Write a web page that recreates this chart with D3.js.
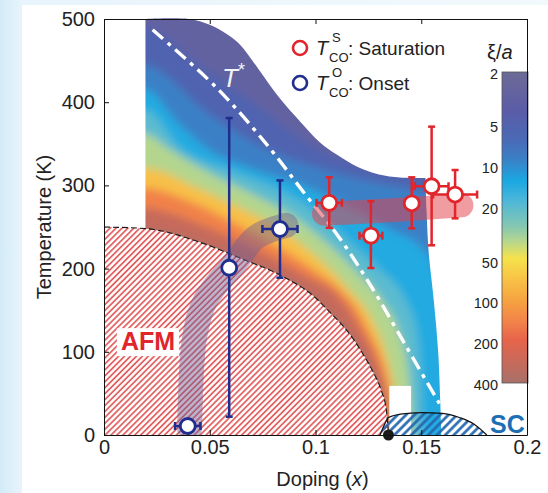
<!DOCTYPE html>
<html>
<head>
<meta charset="utf-8">
<script src="https://cdnjs.cloudflare.com/ajax/libs/d3/7.8.5/d3.min.js"></script>
<style>
  body { margin: 0; background: #fff; }
  svg { display: block; font-family: "Liberation Sans", Arial, sans-serif; }
</style>
</head>
<body>
<svg id="phase" width="548" height="493"></svg>
<script>
// ---- values ----
const xTicks = [0, 0.05, 0.1, 0.15, 0.2];
const yTicks = [0, 100, 200, 300, 400, 500];
const xiTicks = [2, 5, 10, 20, 50, 100, 200, 400];

// colour bar: position along the bar (0 = top, xi = 2) and colour
const cmapPos = [0, 0.13, 0.22, 0.28, 0.35, 0.41, 0.5, 0.55, 0.6, 0.67, 0.74, 0.8, 0.86, 0.93, 1];
const cmapColors = ["#6d6a96", "#5a5ca8", "#4a6ab6", "#3a80c6", "#1aa8e2", "#4ab6da", "#88c8b0", "#bcd888",
                    "#f6e24a", "#f8c046", "#f5a040", "#f2844a", "#e8644a", "#c86a5a", "#a87068"];

// T_CO^O onset (blue)
const onsetX = [0.0396, 0.0592, 0.0832];
const onsetT = [10.8, 201, 247.6];
const onsetTLow = [10.8, 22, 189];
const onsetTHigh = [10.8, 381, 306];
const onsetXErr = [0.006, 0, 0.0083];

// T_CO^S saturation (red)
const satX = [0.1065, 0.1262, 0.1455, 0.1549, 0.166];
const satT = [279, 239.6, 278.5, 299, 289];
const satTLow = [249, 200.7, 248.4, 228, 260.4];
const satTHigh = [309.7, 281, 309.7, 370.6, 318.5];
const satXErr = [0.006, 0.0054, 0, 0.008, 0.0104];

// AFM dome (also the xi = 400 contour)
const afmBoundary = [[0, 250], [0.02, 248], [0.045, 232], [0.065, 212], [0.085, 190], [0.1, 165], [0.107, 147],
                     [0.112, 134], [0.118, 115], [0.123, 95], [0.127, 77], [0.131, 54], [0.1335, 30], [0.1345, 0]];
// SC dome
const scDome = [[0.1305, 0], [0.1325, 12], [0.1345, 21], [0.14, 25], [0.15, 27], [0.16, 26], [0.168, 21], [0.175, 13], [0.181, 0]];

// contours of the correlation length xi/a
const xi200 = [[0, 275], [0.02, 273], [0.045, 254], [0.065, 232], [0.085, 206], [0.1, 185], [0.108, 174], [0.116, 150],
               [0.1215, 126], [0.127, 100], [0.131, 72], [0.134, 40], [0.1355, 0]];
const xi100 = [[0, 299], [0.02, 297], [0.045, 276], [0.065, 250], [0.085, 222], [0.1, 197], [0.112, 174], [0.12, 150],
               [0.125, 126], [0.13, 100], [0.134, 70], [0.1365, 35], [0.1375, 0]];
const xi50 = [[0, 323], [0.02, 321], [0.045, 296], [0.065, 272], [0.083, 248], [0.1, 215], [0.116, 174], [0.124, 150],
              [0.129, 126], [0.133, 100], [0.136, 70], [0.138, 35], [0.139, 0]];
const xi25 = [[0, 365], [0.02, 362], [0.03, 345], [0.05, 315], [0.07, 290], [0.09, 262], [0.105, 232], [0.12, 195],
              [0.132, 160], [0.14, 120], [0.144, 75], [0.1455, 30], [0.146, 0]];
const xi16 = [[0, 392], [0.02, 390], [0.036, 345], [0.06, 318], [0.08, 298], [0.1, 268], [0.115, 235], [0.13, 200],
              [0.142, 165], [0.148, 125], [0.15, 70], [0.1505, 0]];
const xi11 = [[0, 418], [0.02, 415], [0.035, 375], [0.05, 342], [0.07, 320], [0.094, 300], [0.115, 275], [0.135, 248],
              [0.152, 220], [0.159, 180], [0.162, 100], [0.163, 0]];
const xi7 = [[0, 448], [0.02, 444], [0.05, 385], [0.078, 342], [0.1, 322], [0.12, 308], [0.14, 298], [0.165, 288]];
const xi4 = [[0, 495], [0.02, 490], [0.045, 445], [0.07, 400], [0.1, 345], [0.12, 325], [0.14, 315], [0.165, 305]];
const contourXi = [4, 7, 11, 16, 25, 50, 100, 200, 400];
const contours = [xi4, xi7, xi11, xi16, xi25, xi50, xi100, xi200, afmBoundary];

// outline of the coloured region
const fieldLeft = 0.0196;
const fieldTop = [[0.0196, 500], [0.04, 500], [0.05, 493], [0.058, 482], [0.064, 470], [0.073, 440], [0.083, 405],
                  [0.093, 376], [0.102, 352], [0.11, 337], [0.12, 322], [0.13, 313], [0.14, 309.5], [0.152, 309]];
const fieldRight = [[0.152, 309], [0.1525, 270], [0.1535, 220], [0.156, 160], [0.158, 100], [0.159, 40], [0.1595, 0]];
const notchX = [0.1349, 0.1452];
const notchT = [0, 59];

// T* crossover and guide bands
const tStar = [[0.023, 487], [0.053, 418], [0.077, 349], [0.094, 293], [0.111, 238], [0.126, 180], [0.143, 106], [0.159, 36]];
const onsetBand = [[0.0405, 8], [0.043, 120], [0.048, 162], [0.062, 207], [0.072, 238], [0.086, 252]];
const satBand = [[0.104, 266], [0.135, 270], [0.169, 276]];
const afmDot = [0.1345, 0];

// ---- chart ----
const svg = d3.select("#phase");
const margin = {top: 19, right: 21, bottom: 58, left: 104};
const width = 548 - margin.left - margin.right;
const height = 493 - margin.top - margin.bottom;

const x = d3.scaleLinear().domain([0, 0.2]).range([0, width]);
const y = d3.scaleLinear().domain([0, 500]).range([height, 0]);
const colorT = d3.scaleLog().domain([2, 400]).range([0, 1]);
const cmap = d3.scaleLinear().domain(cmapPos).range(cmapColors);
const colorOf = v => cmap(colorT(v));

const defs = svg.append("defs");
const bg = defs.append("linearGradient").attr("id", "bgGrad");
bg.append("stop").attr("offset", "0%").attr("stop-color", "#d3ebf8");
bg.append("stop").attr("offset", "4%").attr("stop-color", "#e7f4fb");
bg.append("stop").attr("offset", "100%").attr("stop-color", "#f2f9fd");

svg.append("rect").attr("width", 548).attr("height", 493).attr("fill", "url(#bgGrad)");
svg.append("rect").attr("x", 22).attr("y", 5).attr("width", 526).attr("height", 488).attr("fill", "#fff");

// hatch patterns
const afmPat = defs.append("pattern").attr("id", "afmHatch").attr("patternUnits", "userSpaceOnUse")
    .attr("width", 4.2).attr("height", 4.2).attr("patternTransform", "rotate(45)");
afmPat.append("rect").attr("width", 4.2).attr("height", 4.2).attr("fill", "#fff");
afmPat.append("line").attr("x1", 1).attr("y1", 0).attr("x2", 1).attr("y2", 4.2)
    .attr("stroke", "#e05050").attr("stroke-width", 1.6);
const scPat = defs.append("pattern").attr("id", "scHatch").attr("patternUnits", "userSpaceOnUse")
    .attr("width", 6).attr("height", 6).attr("patternTransform", "rotate(45)");
scPat.append("line").attr("x1", 1.5).attr("y1", 0).attr("x2", 1.5).attr("y2", 6)
    .attr("stroke", "#2468b0").attr("stroke-width", 2.6);

const blur = defs.append("filter").attr("id", "soften")
    .attr("x", "-10%").attr("y", "-10%").attr("width", "120%").attr("height", "120%");
blur.append("feGaussianBlur").attr("stdDeviation", 4);

defs.append("clipPath").attr("id", "plotClip").append("rect").attr("width", width).attr("height", height);

const g = svg.append("g").attr("transform", "translate(" + margin.left + "," + margin.top + ")");

const lineCR = d3.line().x(d => x(d[0])).y(d => y(d[1])).curve(d3.curveCatmullRom);
const lineMX = d3.line().x(d => x(d[0])).y(d => y(d[1])).curve(d3.curveMonotoneX);
const areaDeep = d3.area().x(d => x(d[0])).y0(y(-40)).y1(d => y(d[1])).curve(d3.curveMonotoneX);
const areaZero = d3.area().x(d => x(d[0])).y0(y(0)).y1(d => y(d[1])).curve(d3.curveMonotoneX);

// coloured correlation-length field
const clipD = lineCR(fieldTop) + lineCR(fieldRight).replace(/^M/, "L") +
    "L" + x(fieldLeft) + "," + y(0) + "Z";
defs.append("clipPath").attr("id", "fieldClip").append("path").attr("d", clipD);

const field = g.append("g").attr("clip-path", "url(#fieldClip)")
    .append("g").attr("filter", "url(#soften)");
field.append("rect").attr("x", -30).attr("y", -30).attr("width", width + 60).attr("height", height + 60)
    .attr("fill", colorOf(3));
contours.forEach((pts, i) => {
    const v = i < contourXi.length - 1 ? Math.sqrt(contourXi[i] * contourXi[i + 1]) : contourXi[i];
    field.append("path").attr("d", areaDeep(pts)).attr("fill", colorOf(v));
});

g.append("rect")
    .attr("x", x(notchX[0])).attr("y", y(notchT[1]))
    .attr("width", x(notchX[1]) - x(notchX[0])).attr("height", y(notchT[0]) - y(notchT[1]))
    .attr("fill", "#fff");

// AFM dome
g.append("path").attr("d", areaZero(afmBoundary)).attr("fill", "url(#afmHatch)");
g.append("path").attr("d", lineMX(afmBoundary)).attr("fill", "none")
    .attr("stroke", "#1a1a1a").attr("stroke-width", 1.1).attr("stroke-dasharray", "6,3");

// SC dome
g.append("path").attr("d", areaZero(scDome)).attr("fill", "url(#scHatch)");
g.append("path").attr("d", lineMX(scDome)).attr("fill", "none")
    .attr("stroke", "#111").attr("stroke-width", 1.2);

// T* line
g.append("path").attr("d", lineCR(tStar)).attr("fill", "none")
    .attr("stroke", "#fff").attr("stroke-width", 3.4).attr("stroke-dasharray", "14,6,4,6");

// guide bands
const bands = g.append("g").attr("clip-path", "url(#plotClip)");
bands.append("path").attr("d", lineCR(onsetBand)).attr("fill", "none")
    .attr("stroke", "#6e5e94").attr("stroke-opacity", 0.45).attr("stroke-width", 25)
    .attr("stroke-linecap", "round");
bands.append("path").attr("d", lineCR(satBand)).attr("fill", "none")
    .attr("stroke", "#e4424a").attr("stroke-opacity", 0.52).attr("stroke-width", 24)
    .attr("stroke-linecap", "round");

// error bars and markers
function drawSeries(xs, ts, tLo, tHi, xErr, color) {
    const bars = g.append("g").attr("stroke", color).attr("stroke-width", 2.5).attr("fill", "none");
    xs.forEach((xv, i) => {
        const cx = x(xv), cy = y(ts[i]);
        if (tHi[i] > tLo[i]) {
            bars.append("line").attr("x1", cx).attr("x2", cx).attr("y1", y(tLo[i])).attr("y2", y(tHi[i]));
            [tLo[i], tHi[i]].forEach(t => bars.append("line")
                .attr("x1", cx - 3.5).attr("x2", cx + 3.5).attr("y1", y(t)).attr("y2", y(t)));
        }
        if (xErr[i] > 0) {
            bars.append("line").attr("x1", x(xv - xErr[i])).attr("x2", x(xv + xErr[i])).attr("y1", cy).attr("y2", cy);
            [xv - xErr[i], xv + xErr[i]].forEach(e => bars.append("line")
                .attr("x1", x(e)).attr("x2", x(e)).attr("y1", cy - 4).attr("y2", cy + 4));
        }
    });
    g.append("g").selectAll("circle").data(xs).join("circle")
        .attr("cx", d => x(d)).attr("cy", (d, i) => y(ts[i])).attr("r", 7.5)
        .attr("fill", "#fff").attr("stroke", color).attr("stroke-width", 2.8);
}
drawSeries(onsetX, onsetT, onsetTLow, onsetTHigh, onsetXErr, "#1f2e8e");
drawSeries(satX, satT, satTLow, satTHigh, satXErr, "#e0252b");

g.append("circle").attr("cx", x(afmDot[0])).attr("cy", y(afmDot[1])).attr("r", 5.5).attr("fill", "#1a1a1a");

// labels inside the plot
const afmLabel = g.append("text").attr("x", x(0.008)).attr("y", y(102))
    .attr("font-size", 25).attr("font-weight", "bold").attr("fill", "#e0252b").text("AFM");
const bb = afmLabel.node().getBBox();
g.insert("rect", () => afmLabel.node())
    .attr("x", bb.x - 4).attr("y", bb.y + 1).attr("width", bb.width + 8).attr("height", bb.height)
    .attr("fill", "#fff");

g.append("text").attr("x", x(0.1825)).attr("y", y(2.4))
    .attr("font-size", 25).attr("font-weight", "bold").attr("fill", "#1c6fb5").text("SC");

const ts = g.append("text").attr("x", x(0.0558)).attr("y", y(418))
    .attr("font-size", 26).attr("font-style", "italic").attr("fill", "#f4f4f8");
ts.append("tspan").text("T");
ts.append("tspan").attr("dy", -11).attr("font-size", 18).attr("font-style", "normal").text("*");

// legend
const legend = [["#e0252b", "S", ": Saturation"], ["#1f2e8e", "O", ": Onset"]];
legend.forEach((d, i) => {
    const ly = 29 + i * 35;
    g.append("circle").attr("cx", 196).attr("cy", ly).attr("r", 7)
        .attr("fill", "#fff").attr("stroke", d[0]).attr("stroke-width", 2.6);
    g.append("text").attr("x", 212).attr("y", ly + 7).attr("font-size", 20)
        .attr("font-style", "italic").attr("fill", "#222").text("T");
    g.append("text").attr("x", 225).attr("y", ly + 14).attr("font-size", 13).attr("fill", "#222").text("CO");
    g.append("text").attr("x", 228).attr("y", ly - 6).attr("font-size", 13).attr("fill", "#222").text(d[1]);
    g.append("text").attr("x", 244).attr("y", ly + 7).attr("font-size", 19).attr("fill", "#222").text(d[2]);
});

// colour bar
const cbX = 398, cbW = 26;
const cbScale = d3.scaleLog().domain([2, 400]).range([53, 364]);
const cbGrad = defs.append("linearGradient").attr("id", "cbGrad")
    .attr("x1", 0).attr("y1", 0).attr("x2", 0).attr("y2", 1);
cmapPos.forEach((p, i) => cbGrad.append("stop").attr("offset", p).attr("stop-color", cmapColors[i]));
g.append("rect").attr("x", cbX).attr("y", cbScale(2)).attr("width", cbW)
    .attr("height", cbScale(400) - cbScale(2)).attr("fill", "url(#cbGrad)")
    .attr("stroke", "#555").attr("stroke-width", 0.8);
const cbAxis = g.append("g").attr("transform", "translate(" + (cbX - 4) + ",0)")
    .call(d3.axisLeft(cbScale).tickValues(xiTicks).tickFormat(d3.format("d")).tickSize(0).tickPadding(0));
cbAxis.select(".domain").remove();
cbAxis.selectAll("text").attr("font-size", 14.5).attr("fill", "#222").attr("font-family", null).attr("dy", "0.42em");
const cbTitle = g.append("text").attr("x", cbX - 15).attr("y", 40).attr("font-size", 20).attr("fill", "#222");
cbTitle.append("tspan").text("ξ/");
cbTitle.append("tspan").attr("font-style", "italic").text("a");

// axes and frame
const fmt = d3.format("~g");
const xAxis = g.append("g").attr("transform", "translate(0," + height + ")")
    .call(d3.axisBottom(x).tickValues(xTicks).tickFormat(fmt).tickSize(-5).tickSizeOuter(0));
xAxis.selectAll("text").attr("y", 19).attr("dy", 0).attr("font-size", 20).attr("fill", "#222").attr("font-family", null);
g.append("g").call(d3.axisTop(x).tickValues(xTicks).tickFormat("").tickSize(-5).tickSizeOuter(0));
const yAxis = g.append("g")
    .call(d3.axisLeft(y).tickValues(yTicks).tickSize(-5).tickSizeOuter(0).tickPadding(9));
yAxis.selectAll("text").attr("font-size", 20).attr("fill", "#222").attr("font-family", null);
g.append("g").attr("transform", "translate(" + width + ",0)")
    .call(d3.axisRight(y).tickValues([]).tickSizeOuter(0));
g.selectAll(".domain").attr("stroke", "#111");
g.selectAll(".tick line").attr("stroke", "#111");

g.append("text").attr("transform", "translate(-53," + (height / 2) + ") rotate(-90)")
    .attr("text-anchor", "middle").attr("font-size", 20).attr("fill", "#222").text("Temperature (K)");
const xl = g.append("text").attr("x", width / 2 + 7).attr("y", height + 51)
    .attr("text-anchor", "middle").attr("font-size", 20).attr("fill", "#222");
xl.append("tspan").text("Doping (");
xl.append("tspan").attr("font-style", "italic").text("x");
xl.append("tspan").text(")");
</script>
</body>
</html>
